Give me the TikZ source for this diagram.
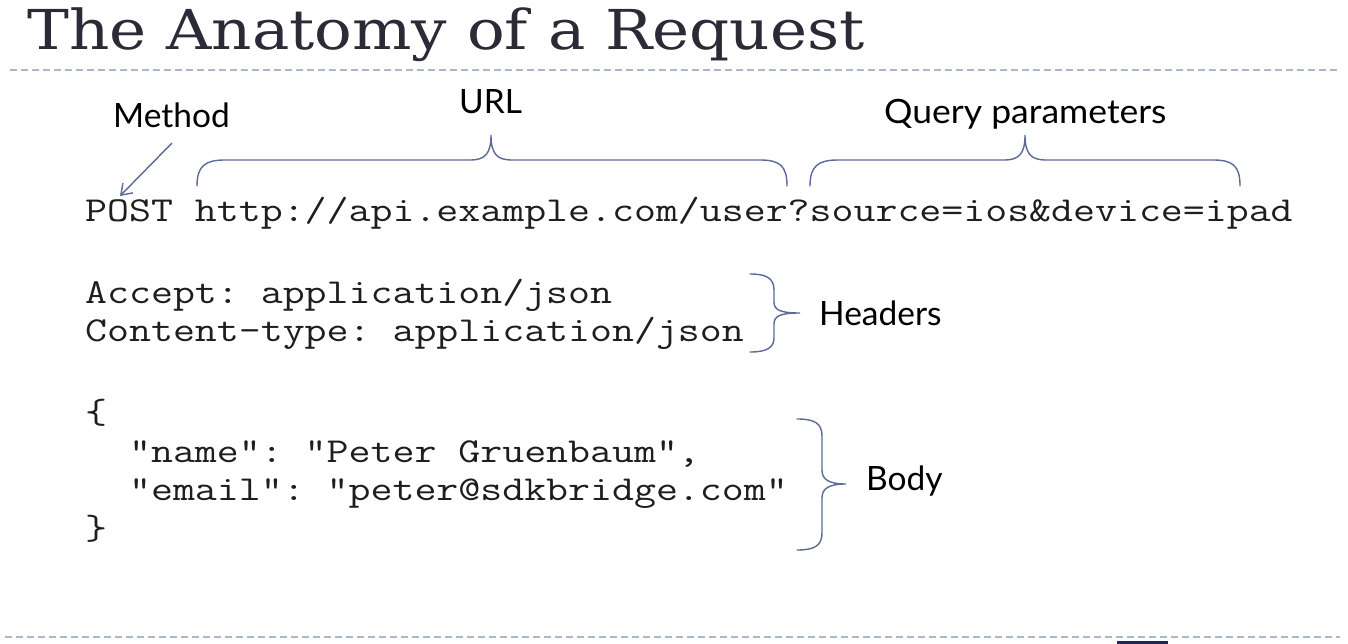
\documentclass[tikz,border=0pt]{standalone}
\usepackage{fontspec}
\setmainfont{DejaVu Serif}
\setsansfont{Lato}
\definecolor{brc}{HTML}{5B6A96}
\definecolor{dashc}{HTML}{A9B9CB}
\definecolor{titlec}{HTML}{2B2B38}
\definecolor{codec}{HTML}{1E1E1E}
\usetikzlibrary{arrows.meta}
\newcommand{\cl}[1]{\scalebox{1.218}[1]{#1}}
\tikzset{
  code/.style={anchor=base west, inner sep=0pt, text=codec, font=\ttfamily\frenchspacing\fontsize{35}{40}\selectfont},
  lbl/.style={anchor=base west, inner sep=0pt, text=black, font=\sffamily\fontsize{33.5}{36}\selectfont},
  brace/.style={draw=brc, line width=1.4pt, line cap=round},
  sep/.style={draw=dashc, line width=2pt, dash pattern=on 7pt off 4pt}
}
\begin{document}
\begin{tikzpicture}[x=1pt,y=-1pt]
\useasboundingbox (0,0) rectangle (1348,644);
\fill[white] (0,0) rectangle (1348,644);
% title
\node[anchor=base west, inner sep=0pt, text=titlec, font=\rmfamily\fontsize{55}{60}\selectfont] (title) at (27,50) {\scalebox{1.14}[1]{The Anatomy of a Request}};
\coordinate (s1a) at (10,70); \coordinate (s1b) at (1340,70);
\draw[sep] (s1a) -- (s1b);
\coordinate (s2a) at (5,637); \coordinate (s2b) at (1340,637);
\draw[sep] (s2a) -- (s2b);
\fill[titlec!80!blue] (1117,641) rectangle (1168,644);
% code
\node[code] (req) at (85,222) {\cl{POST http://api.example.com/user?source=ios\&device=ipad}};
\node[code] (h1) at (85,303) {\cl{Accept: application/json}};
\node[code] (h2) at (85,341) {\cl{Content-type: application/json}};
\node[code] (b0) at (85,423) {\cl{\{}};
\node[code] (b1) at (85,462) {\cl{\ \ "name": "Peter Gruenbaum",}};
\node[code] (b2) at (85,500) {\cl{\ \ "email": "peter@sdkbridge.com"}};
\node[code] (b3) at (85,539) {\cl{\}}};
% labels
\node[lbl] (method) at (113,128) {Method};
\node[lbl] (url) at (459,114) {URL};
\node[lbl] (query) at (884,124) {\scalebox{1.06}[1]{Query parameters}};
\node[lbl] (headers) at (819,325) {Headers};
\node[lbl] (body) at (866,490) {Body};
% method arrow
\coordinate (mA) at (172,143);
\coordinate (mB) at (120,196);
\draw[brc, line width=1.4pt, -{Straight Barb[length=10pt,width=14pt]}] (mA) -- (mB);
% URL brace
\draw[brace] (197,186) .. controls (197,166) and (205,160) .. (225,160) -- (470,160)
  .. controls (485,160) and (491,154) .. (491,135)
  .. controls (491,154) and (497,160) .. (512,160) -- (760,160)
  .. controls (780,160) and (787,166) .. (787,186);
% Query brace
\draw[brace] (810,186) .. controls (810,166) and (818,160) .. (838,160) -- (1004,160)
  .. controls (1019,160) and (1025,154) .. (1025,135)
  .. controls (1025,154) and (1031,160) .. (1046,160) -- (1213,160)
  .. controls (1233,160) and (1240,166) .. (1240,186);
% Headers brace
\draw[brace] (750,274) .. controls (766,274) and (774,278) .. (774,290) -- (774,302)
  .. controls (774,310) and (780,313) .. (800,313)
  .. controls (780,313) and (774,316) .. (774,324) -- (774,338)
  .. controls (774,348) and (766,352) .. (750,352);
% Body brace
\draw[brace] (797,419) .. controls (814,419) and (822,423) .. (822,436) -- (822,470)
  .. controls (822,479) and (828,484) .. (846,484)
  .. controls (828,484) and (822,489) .. (822,498) -- (822,533)
  .. controls (822,546) and (814,550) .. (797,550);
\end{tikzpicture}
\end{document}
